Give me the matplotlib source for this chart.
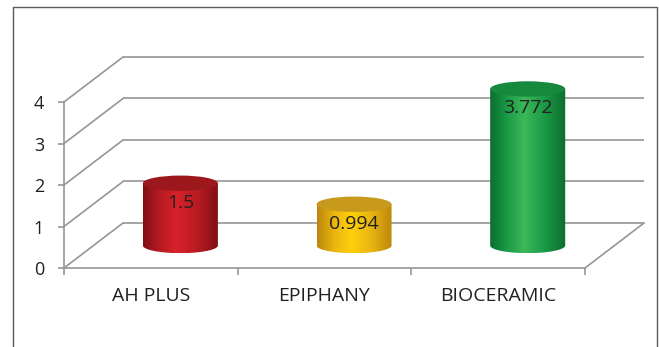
import numpy as np
import matplotlib
matplotlib.use("Agg")
import matplotlib.pyplot as plt
from matplotlib.patches import Ellipse, PathPatch
from matplotlib.path import Path
from matplotlib.colors import LinearSegmentedColormap
from matplotlib.lines import Line2D

# ---- data ----
categories = ["AH PLUS", "EPIPHANY", "BIOCERAMIC"]
values = [1.5, 0.994, 3.772]
value_labels = ["1.5", "0.994", "3.772"]
y_ticks = [0, 1, 2, 3, 4]

# ---- style ----
plt.rcParams['font.family'] = ['Open Sans', 'DejaVu Sans']
TEXT = '#231f20'
GRID = '#969696'
FRAME = '#5a5a5a'
# (dark edge, mid, highlight, top face)
PALETTE = [
    ('#7e0f14', '#b81a22', '#d8222b', '#9c181d'),
    ('#b9860c', '#e8b410', '#ffd00a', '#c89a1c'),
    ('#0b6e2f', '#1a9a45', '#3cb85a', '#16893d'),
]
DX, DY = 0.34, 1.085      # depth of the 3-D box (data units)
CW, EH = 0.432, 0.37      # cylinder width / ellipse height (data units)

W, H = 659, 347
fig = plt.figure(figsize=(W / 100, H / 100), dpi=100)
ax = fig.add_axes([64 / W, (H - 268) / H, (585 - 64) / W, (268 - 102) / H])
ax.patch.set_visible(False)

x0, x1 = -0.5, len(categories) - 0.5
lw = 1.2

# back wall grid lines, left wall diagonals, floor edge
for t in y_ticks:
    ax.plot([x0 + DX, x1 + DX], [t + DY, t + DY], color=GRID, lw=lw,
            clip_on=False, zorder=1, solid_capstyle='butt')
    ax.plot([x0, x0 + DX], [t, t + DY], color=GRID, lw=lw,
            clip_on=False, zorder=1)
ax.plot([x1, x1 + DX], [0, DY], color=GRID, lw=lw, clip_on=False, zorder=1)

# cylinders
for i, (v, lbl, (dark, mid, hi, top)) in enumerate(zip(values, value_labels, PALETTE)):
    cx = i + DX / 2
    by = DY / 2
    ty = v + DY / 2
    th = np.linspace(np.pi, 2 * np.pi, 80)
    xs = cx + CW / 2 * np.cos(th)
    ys = by + EH / 2 * np.sin(th)
    verts = list(zip(xs, ys)) + [(cx + CW / 2, ty), (cx - CW / 2, ty), (xs[0], ys[0])]
    codes = [Path.MOVETO] + [Path.LINETO] * (len(verts) - 2) + [Path.CLOSEPOLY]
    body = PathPatch(Path(verts, codes), transform=ax.transData)
    cmap = LinearSegmentedColormap.from_list(
        'c%d' % i, [(0, dark), (0.22, mid), (0.45, hi), (0.72, mid), (1, dark)])
    grad = np.linspace(0, 1, 256).reshape(1, -1)
    im = ax.imshow(grad, extent=(cx - CW / 2, cx + CW / 2, by - EH / 2, ty + EH / 4),
                   aspect='auto', cmap=cmap, interpolation='bicubic', zorder=3)
    im.set_clip_path(body)
    im.set_clip_box(fig.bbox)
    ax.add_patch(Ellipse((cx, ty), CW, EH, facecolor=top, edgecolor='none',
                         zorder=4, clip_on=False))
    ax.annotate(lbl, (cx, ty), xytext=(0, -14), textcoords='offset points',
                ha='center', va='center', fontsize=14, color=TEXT, zorder=5,
                annotation_clip=False)

ax.set_xlim(x0, x1)
ax.set_ylim(y_ticks[0], y_ticks[-1])

for s in ('top', 'right'):
    ax.spines[s].set_visible(False)
for s in ('left', 'bottom'):
    ax.spines[s].set_color(GRID)
    ax.spines[s].set_linewidth(lw)

ax.set_yticks(y_ticks)
ax.tick_params(axis='y', direction='out', length=4.3, width=lw, color=GRID,
               pad=10, labelsize=13, labelcolor=TEXT)
ax.set_xticks(range(len(categories)), categories)
ax.set_xticks(np.arange(x0, x1 + 0.01, 1.0), minor=True)
ax.tick_params(axis='x', which='major', length=0, pad=14, labelsize=14,
               labelcolor=TEXT)
ax.tick_params(axis='x', which='minor', direction='out', length=5, width=lw,
               color=GRID)

# outer frame
fig.add_artist(Line2D([13 / W, 13 / W, 657 / W, 657 / W],
                      [0, (H - 7) / H, (H - 7) / H, 0],
                      transform=fig.transFigure, color=FRAME, lw=1.0))

fig.savefig('out.png', dpi=100)
